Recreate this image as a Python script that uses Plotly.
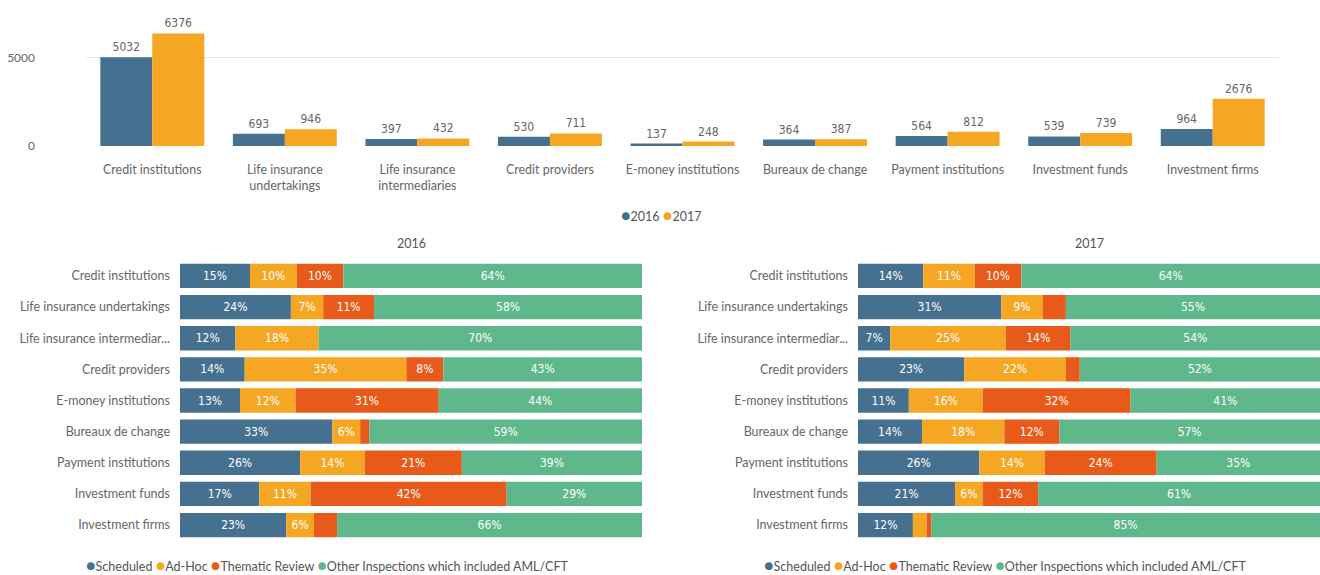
import plotly.graph_objects as go

# categories
sectors = ['Credit institutions', 'Life insurance undertakings', 'Life insurance intermediaries',
           'Credit providers', 'E-money institutions', 'Bureaux de change',
           'Payment institutions', 'Investment funds', 'Investment firms']
top_labels = ['Credit institutions', 'Life insurance<br>undertakings', 'Life insurance<br>intermediaries',
              'Credit providers', 'E-money institutions', 'Bureaux de change',
              'Payment institutions', 'Investment funds', 'Investment firms']
bottom_labels = ['Credit institutions', 'Life insurance undertakings', 'Life insurance intermediar...',
                 'Credit providers', 'E-money institutions', 'Bureaux de change',
                 'Payment institutions', 'Investment funds', 'Investment firms']

# number of inspections
insp_2016 = [5032, 693, 397, 530, 137, 364, 564, 539, 964]
insp_2017 = [6376, 946, 432, 711, 248, 387, 812, 739, 2676]

# share by inspection type (%)
sched_2016 = [15, 24, 12, 14, 13, 33, 26, 17, 23]
adhoc_2016 = [10, 7, 18, 35, 12, 6, 14, 11, 6]
thematic_2016 = [10, 11, 0, 8, 31, 2, 21, 42, 5]
other_2016 = [64, 58, 70, 43, 44, 59, 39, 29, 66]

sched_2017 = [14, 31, 7, 23, 11, 14, 26, 21, 12]
adhoc_2017 = [11, 9, 25, 22, 16, 18, 14, 6, 3]
thematic_2017 = [10, 5, 14, 3, 32, 12, 24, 12, 1]
other_2017 = [64, 55, 54, 52, 41, 57, 35, 61, 85]

type_names = ['Scheduled', 'Ad-Hoc', 'Thematic Review', 'Other Inspections which included AML/CFT']

BLUE = '#46708F'
ORANGE = '#F5A623'
RED = '#E85A19'
GREEN = '#5EB88C'
type_colors = [BLUE, ORANGE, RED, GREEN]

W, H = 1320, 575
GREY = '#666666'
FONT = 'Lato, Open Sans, sans-serif'
LBL_FONT = 'DejaVu Sans Condensed, sans-serif'


def px_x(p):
    return p / W


def px_y(p):
    return 1 - p / H


fig = go.Figure()

# --- top grouped bars (overlay mode, placed side by side with offset)
BW = 0.392
for vals, col, off in [(insp_2016, BLUE, -BW), (insp_2017, ORANGE, 0.0)]:
    fig.add_trace(go.Bar(x=sectors, y=vals, marker=dict(color=col, line=dict(width=0)),
                         offset=off, width=BW,
                         text=vals, textposition='outside', cliponaxis=False,
                         textfont=dict(color=GREY, size=12, family=LBL_FONT),
                         showlegend=False, xaxis='x', yaxis='y'))

# --- bottom 100% stacked bars
panels = [
    ('x2', 'y2', [sched_2016, adhoc_2016, thematic_2016, other_2016]),
    ('x3', 'y3', [sched_2017, adhoc_2017, thematic_2017, other_2017]),
]
for xa, ya, series in panels:
    totals = [sum(s[i] for s in series) for i in range(len(sectors))]
    cum = [0.0] * len(sectors)
    for nm, col, vals in zip(type_names, type_colors, series):
        share = [v / t * 100 for v, t in zip(vals, totals)]
        txt = [f'{v}%' if v >= 6 else '' for v in vals]
        fig.add_trace(go.Bar(y=bottom_labels, x=share, base=list(cum), orientation='h', name=nm,
                             marker=dict(color=col, line=dict(width=0)), width=0.78,
                             text=txt, textposition='inside', insidetextanchor='middle',
                             textangle=0,
                             textfont=dict(color='white', size=12, family=LBL_FONT),
                             customdata=vals, hovertemplate='%{y}: %{customdata}%<extra>' + nm + '</extra>',
                             showlegend=False, xaxis=xa, yaxis=ya))
        cum = [c + s for c, s in zip(cum, share)]


def legend_html(names, colors):
    return ' '.join(f'<span style="color:{c};font-size:16px">●</span>{n}'
                    for n, c in zip(names, colors))


ann_font = dict(size=12.5, color='#555555', family=FONT)
annotations = [
    dict(text='2016', x=px_x(411), y=px_y(243)),
    dict(text='2017', x=px_x(1089), y=px_y(243)),
    dict(text=legend_html(['2016', '2017'], [BLUE, ORANGE]), x=px_x(619), y=px_y(214)),
    dict(text=legend_html(type_names, type_colors), x=px_x(84), y=px_y(564)),
    dict(text=legend_html(type_names, type_colors), x=px_x(762), y=px_y(564)),
]
for i, a in enumerate(annotations):
    a.update(xref='paper', yref='paper', showarrow=False, font=ann_font,
             xanchor='center' if i < 2 else 'left', yanchor='middle')

fig.update_layout(
    width=W, height=H,
    paper_bgcolor='white', plot_bgcolor='white',
    margin=dict(l=0, r=0, t=0, b=0, pad=0),
    font=dict(family=FONT, color=GREY, size=12),
    barmode='overlay',
    showlegend=False,
    xaxis=dict(domain=[px_x(86), px_x(1279)], showgrid=False, zeroline=False,
               showline=False, ticks='', tickvals=sectors, ticktext=top_labels,
               tickfont=dict(size=12.5, color=GREY), ticklabelstandoff=14,
               automargin=False, anchor='y'),
    yaxis=dict(domain=[px_y(146), px_y(26)], range=[0, 6800], tickvals=[0, 5000],
               showgrid=True, gridcolor='#E6E6E6', zeroline=False, showline=False,
               tickfont=dict(size=12, color=GREY), ticklabelstandoff=50,
               automargin=False, anchor='x'),
    xaxis2=dict(domain=[px_x(180), px_x(642)], range=[0, 100], visible=False, anchor='y2'),
    yaxis2=dict(domain=[px_y(540.6), px_y(260.4)], autorange='reversed', showgrid=False,
                zeroline=False, ticks='', tickfont=dict(size=12.5, color=GREY),
                ticklabelstandoff=9, automargin=False, anchor='x2'),
    xaxis3=dict(domain=[px_x(858), px_x(1320)], range=[0, 100], visible=False, anchor='y3'),
    yaxis3=dict(domain=[px_y(540.6), px_y(260.4)], autorange='reversed', showgrid=False,
                zeroline=False, ticks='', tickfont=dict(size=12.5, color=GREY),
                ticklabelstandoff=9, automargin=False, anchor='x3'),
    annotations=annotations,
    uniformtext=dict(mode='show', minsize=8),
)

# remove the default page margin so the figure fills the window exactly
fig.write_html('out.html', config={'displayModeBar': False},
               post_script="document.body.style.margin='0px';")
